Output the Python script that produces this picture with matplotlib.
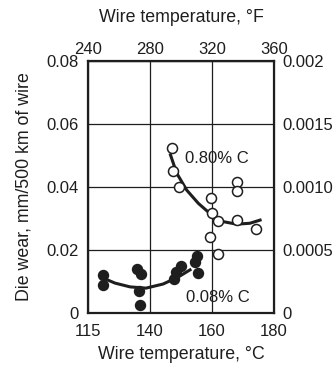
import matplotlib
matplotlib.use("Agg")
import matplotlib.pyplot as plt

plt.rcParams["font.family"] = ["Liberation Sans", "DejaVu Sans"]

# wire temperature in °F, die wear in mm/500 km
high_c_temp = [294.0, 294.6, 298.5, 319.4, 319.8, 323.9, 318.7, 323.9, 335.9, 335.9, 335.9, 348.2]
high_c_wear = [0.0523, 0.0451, 0.0400, 0.0366, 0.0317, 0.0291, 0.0240, 0.0186, 0.0415, 0.0387, 0.0294, 0.0268]

low_c_temp = [249.9, 249.9, 271.9, 274.2, 272.6, 273.5, 296.8, 300.0, 295.5, 310.3, 309.0, 311.0]
low_c_wear = [0.0121, 0.0089, 0.0141, 0.0124, 0.0070, 0.0027, 0.0130, 0.0149, 0.0108, 0.0181, 0.0162, 0.0127]

# trend curves
high_fit_temp = [293.2, 297.2, 303.7, 311.2, 319.8, 327.3, 335.9, 344.5, 351.0]
high_fit_wear = [0.0502, 0.0444, 0.0390, 0.0348, 0.0311, 0.0290, 0.0282, 0.0285, 0.0295]
low_fit_temp = [249.7, 257.4, 267.1, 277.4, 288.4, 298.1, 305.8]
low_fit_wear = [0.0111, 0.0095, 0.0083, 0.0079, 0.0092, 0.0114, 0.0137]

f_ticks = [240, 280, 320, 360]
c_tick_labels = ["115", "140", "160", "180"]
wear_ticks = [0, 0.02, 0.04, 0.06, 0.08]
wear_labels = ["0", "0.02", "0.04", "0.06", "0.08"]
right_ticks = [0, 0.0005, 0.0010, 0.0015, 0.002]
right_labels = ["0", "0.0005", "0.0010", "0.0015", "0.002"]

ink = "#1e1e1e"
fs = 12
lfs = 12.8

fig = plt.figure(figsize=(3.34, 3.67), dpi=100)
ax = fig.add_axes([0.2635, 0.1471, 0.557, 0.6866])
ax.set_xlim(240, 360)
ax.set_ylim(0, 0.08)

ax.plot(high_fit_temp, high_fit_wear, color=ink, lw=2.2, zorder=2)
ax.plot(low_fit_temp, low_fit_wear, color=ink, lw=2.2, zorder=2)
ax.plot(high_c_temp, high_c_wear, "o", ms=7.2, mfc="white", mec=ink, mew=1.1, zorder=3)
ax.plot(low_c_temp, low_c_wear, "o", ms=7.2, mfc=ink, mec=ink, zorder=3)

ax.text(302.4, 0.0492, "0.80% C", fontsize=fs, color=ink, va="center", ha="left")
ax.text(303.0, 0.0048, "0.08% C", fontsize=fs, color=ink, va="center", ha="left")

ax.set_xticks(f_ticks, labels=c_tick_labels)
ax.set_yticks(wear_ticks, labels=wear_labels)
ax.grid(True, color=ink, lw=0.9)
ax.tick_params(axis="y", length=0, labelsize=fs, labelcolor=ink, pad=7)
ax.tick_params(axis="x", length=0, labelsize=fs, labelcolor=ink, pad=8)
for s in ax.spines.values():
    s.set_linewidth(1.6)
    s.set_color(ink)
ax.set_xlabel("Wire temperature, °C", fontsize=lfs, color=ink, labelpad=5)
ax.set_ylabel("Die wear, mm/500 km of wire", fontsize=lfs, color=ink, labelpad=10)

top = ax.secondary_xaxis("top")
top.set_xticks(f_ticks, labels=[str(t) for t in f_ticks])
top.tick_params(length=0, labelsize=fs, labelcolor=ink, pad=3)
top.set_xlabel("Wire temperature, °F", fontsize=lfs, color=ink, labelpad=14)

right = ax.secondary_yaxis("right", functions=(lambda y: y / 40, lambda y: y * 40))
right.set_yticks(right_ticks, labels=right_labels)
right.tick_params(length=0, labelsize=fs, labelcolor=ink, pad=6)

fig.savefig("out.png", dpi=100)
